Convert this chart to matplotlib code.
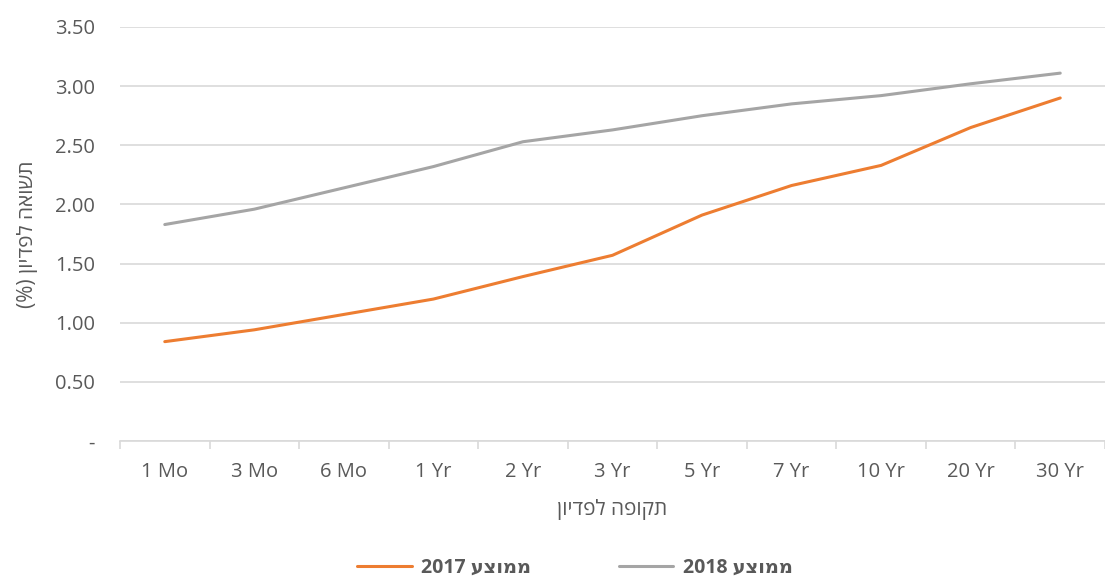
import numpy as np
import matplotlib.pyplot as plt

# data
terms = ['1 Mo', '3 Mo', '6 Mo', '1 Yr', '2 Yr', '3 Yr', '5 Yr', '7 Yr', '10 Yr', '20 Yr', '30 Yr']
avg_2017 = [0.84, 0.94, 1.07, 1.20, 1.39, 1.57, 1.91, 2.16, 2.33, 2.65, 2.90]
avg_2018 = [1.83, 1.96, 2.14, 2.32, 2.53, 2.63, 2.75, 2.85, 2.92, 3.02, 3.11]
y_ticks = [0, 0.5, 1.0, 1.5, 2.0, 2.5, 3.0, 3.5]


def rtl(s):
    # matplotlib has no bidi support: reverse Hebrew for visual order
    out = s[::-1]
    return out.translate(str.maketrans('()', ')('))


plt.rcParams['font.family'] = ['Open Sans', 'DejaVu Sans']
text_color = '#595959'
grid_color = '#d9d9d9'

fig = plt.figure(figsize=(11.05, 5.78), dpi=100)
W, H = 1105, 578
left, right, top, bottom = 120, 1105, 27, 441
ax = fig.add_axes([left / W, 1 - bottom / H, (right - left) / W, (bottom - top) / H])

x = np.arange(len(terms))
ax.plot(x, avg_2017, color='#ED7D31', lw=2.2, label='2017 ' + rtl('ממוצע'), solid_capstyle='round')
ax.plot(x, avg_2018, color='#A5A5A5', lw=2.2, label='2018 ' + rtl('ממוצע'), solid_capstyle='round')

ax.set_ylim(0, 3.5)
ax.set_xlim(-0.5, 10 + (1105 - 1068) / 90.3)

ax.set_yticks(y_ticks)
ax.set_yticklabels(['-' if v == 0 else f'{v:.2f}' for v in y_ticks])
ax.yaxis.grid(True, color=grid_color, lw=1.2)
ax.set_axisbelow(True)

ax.set_xticks(x)
ax.set_xticklabels(terms)
ax.set_xticks(np.arange(-0.5, len(terms), 1), minor=True)
ax.tick_params(axis='x', which='major', length=0, pad=15, labelsize=14.5, labelcolor=text_color)
ax.tick_params(axis='x', which='minor', length=6, width=1.2, color=grid_color)
ax.tick_params(axis='y', length=0, pad=18, labelsize=14.5, labelcolor=text_color)

for side in ['top', 'right', 'left']:
    ax.spines[side].set_visible(False)
ax.spines['bottom'].set_color(grid_color)
ax.spines['bottom'].set_linewidth(1.2)

ax.set_xlabel(rtl('תקופה לפדיון'), fontsize=15, color=text_color, labelpad=12)
ax.set_ylabel(rtl('תשואה לפדיון (%)'), fontsize=15, color=text_color, labelpad=12)

fig.legend(loc='center', bbox_to_anchor=(575 / W, 1 - 568 / H), ncol=2, frameon=False,
           handlelength=2.8, handletextpad=0.5, columnspacing=4.5,
           prop={'size': 14, 'weight': 'bold'}, labelcolor=text_color)

fig.savefig('out.png', dpi=100)
